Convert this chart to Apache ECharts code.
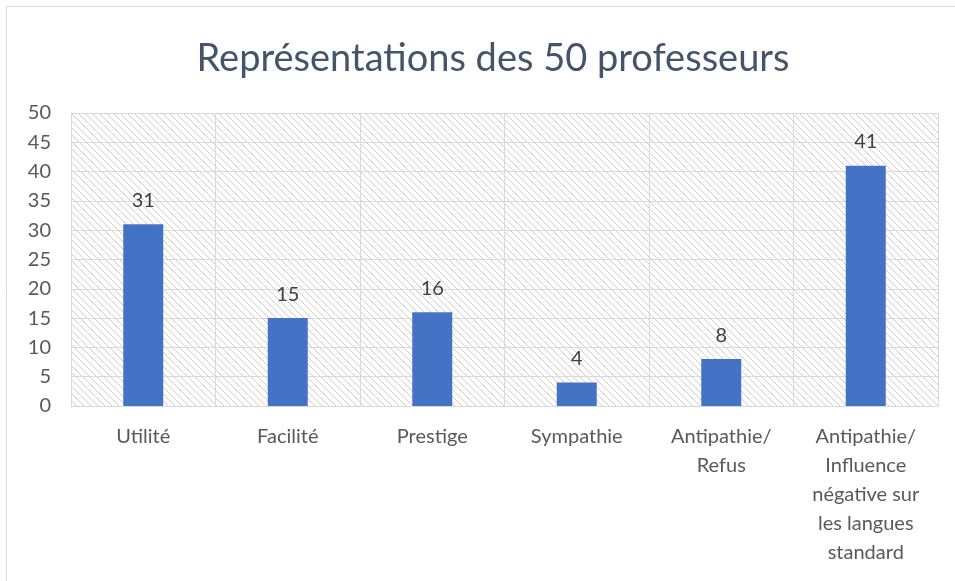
<!DOCTYPE html>
<html>
<head>
<meta charset="utf-8">
<script src="https://cdn.jsdelivr.net/npm/echarts@6/dist/echarts.min.js"></script>
<style>
  html, body { margin: 0; padding: 0; background: #fff; }
  #chart { width: 955px; height: 581px; }
</style>
</head>
<body>
<div id="chart"></div>
<script>
// Categories (x axis) and counts per representation
const categories = [
  'Utilité',
  'Facilité',
  'Prestige',
  'Sympathie',
  'Antipathie/\nRefus',
  'Antipathie/\nInfluence\nnégative sur\nles langues\nstandard'
];
const counts = [31, 15, 16, 4, 8, 41];
const yTicks = { min: 0, max: 50, step: 5 };
const titleText = 'Représentations des 50 professeurs';

// Diagonal hatch tile for the plot background
function hatchTile() {
  const s = 7;
  const c = document.createElement('canvas');
  c.width = s; c.height = s;
  const g = c.getContext('2d');
  g.fillStyle = '#ffffff';
  g.fillRect(0, 0, s, s);
  g.strokeStyle = '#cdcdcd';
  g.lineWidth = 1;
  g.beginPath();
  g.moveTo(-1, -1); g.lineTo(s + 1, s + 1);
  g.moveTo(-1, s - 1); g.lineTo(1, s + 1);
  g.moveTo(s - 1, -1); g.lineTo(s + 1, 1);
  g.stroke();
  return c;
}

const font = 'Lato, "Open Sans", sans-serif';
const chart = echarts.init(document.getElementById('chart'), null, { renderer: 'canvas' });

chart.setOption({
  animation: false,
  backgroundColor: '#ffffff',
  title: {
    text: titleText,
    left: 488,
    textAlign: 'center',
    top: 35,
    textStyle: { fontFamily: font, fontSize: 38, fontWeight: 'normal', color: '#44546A' }
  },
  graphic: [{
    type: 'rect',
    silent: true,
    shape: { x: 6.5, y: 6.5, width: 1000, height: 1000 },
    style: { fill: 'none', stroke: '#d9d9d9', lineWidth: 1 }
  }],
  grid: {
    left: 71, right: 17, top: 113, bottom: 175,
    show: true,
    borderWidth: 0,
    backgroundColor: { image: hatchTile(), repeat: 'repeat' }
  },
  xAxis: {
    type: 'category',
    data: categories,
    boundaryGap: true,
    axisLine: { show: true, lineStyle: { color: '#d9d9d9', width: 1 } },
    axisTick: { show: false },
    splitLine: { show: true, lineStyle: { color: '#d9d9d9', width: 1 } },
    axisLabel: {
      interval: 0,
      margin: 16,
      color: '#595959',
      fontFamily: font,
      fontSize: 20,
      lineHeight: 29,
      align: 'center'
    }
  },
  yAxis: {
    type: 'value',
    min: yTicks.min,
    max: yTicks.max,
    interval: yTicks.step,
    axisLine: { show: false },
    axisTick: { show: false },
    splitLine: { show: true, lineStyle: { color: '#d9d9d9', width: 1 } },
    axisLabel: { margin: 20, color: '#595959', fontFamily: font, fontSize: 20 }
  },
  series: [{
    type: 'bar',
    data: counts,
    barWidth: 40,
    itemStyle: { color: '#4472C4' },
    label: {
      show: true,
      position: 'top',
      distance: 14,
      color: '#404040',
      fontFamily: font,
      fontSize: 20
    }
  }]
});
</script>
</body>
</html>
